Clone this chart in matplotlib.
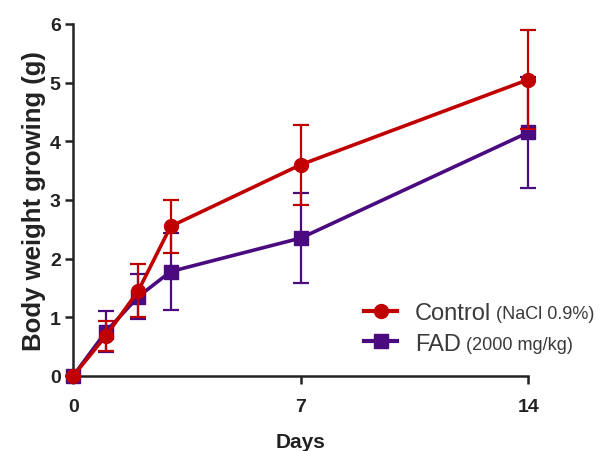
import matplotlib
matplotlib.use("Agg")
import matplotlib.pyplot as plt
from matplotlib.lines import Line2D

plt.rcParams["font.family"] = ["Liberation Sans", "DejaVu Sans"]

# data
days = [0, 1, 2, 3, 7, 14]
control_mean = [0.0, 0.68, 1.45, 2.55, 3.60, 5.05]
control_err = [0.0, 0.25, 0.45, 0.45, 0.68, 0.85]
fad_mean = [0.0, 0.75, 1.35, 1.78, 2.35, 4.15]
fad_err = [0.0, 0.35, 0.38, 0.66, 0.77, 0.95]

x_ticks = [0, 7, 14]
y_ticks = [0, 1, 2, 3, 4, 5, 6]

legend_names = ["Control", "FAD"]
legend_extra = ["(NaCl 0.9%)", "(2000 mg/kg)"]

control_color = "#c00000"
fad_color = "#4a0a80"

fig = plt.figure(figsize=(6.15, 4.52), dpi=100)
ax = fig.add_axes([0.119, 0.166, 0.740, 0.779])

# FAD first so control sits on top like in the reference
ax.errorbar(days, fad_mean, yerr=fad_err, color=fad_color, marker="s",
            markersize=10, linewidth=2.6, elinewidth=1.6, capsize=6,
            capthick=1.6, clip_on=False, zorder=3)
ax.errorbar(days, control_mean, yerr=control_err, color=control_color,
            marker="o", markersize=10, linewidth=2.6, elinewidth=1.6,
            capsize=6, capthick=1.6, clip_on=False, zorder=4)

ax.set_xlim(0, 14)
ax.set_ylim(0, 6)
ax.set_xticks(x_ticks)
ax.set_yticks(y_ticks)

for side in ["top", "right"]:
    ax.spines[side].set_visible(False)
for side in ["left", "bottom"]:
    ax.spines[side].set_linewidth(1.8)
    ax.spines[side].set_color("#222222")

ax.tick_params(axis="both", length=6, width=1.8, color="#222222",
               labelsize=14)
ax.tick_params(axis="x", pad=10)
ax.tick_params(axis="y", pad=3)
for lbl in ax.get_xticklabels() + ax.get_yticklabels():
    lbl.set_fontweight("bold")
    lbl.set_color("#222222")

ax.set_xlabel("Days", fontsize=15, fontweight="bold", color="#222222",
              labelpad=12)
ax.set_ylabel("Body weight growing (g)", fontsize=18.5, fontweight="bold",
              color="#222222", labelpad=3)

# legend handles without the error bar glyph
handles = [
    Line2D([], [], color=control_color, marker="o", markersize=10,
           linewidth=3),
    Line2D([], [], color=fad_color, marker="s", markersize=10, linewidth=3),
]
leg = ax.legend(handles, legend_names, loc="lower right",
                bbox_to_anchor=(0.965, 0.0), frameon=False, fontsize=17,
                handlelength=1.4, handletextpad=0.75, labelspacing=0.35)
for t in leg.get_texts():
    t.set_color("#3a3a3a")

# smaller parenthetical after each legend entry
fig.canvas.draw()
inv = fig.transFigure.inverted()
for t, s in zip(leg.get_texts(), legend_extra):
    bb = t.get_window_extent()
    x0, y0 = inv.transform((bb.x1 + 5, bb.y0 + 2))
    fig.text(x0, y0, s, fontsize=13, color="#3a3a3a", va="bottom",
             ha="left")

fig.savefig("out.png", dpi=100)
